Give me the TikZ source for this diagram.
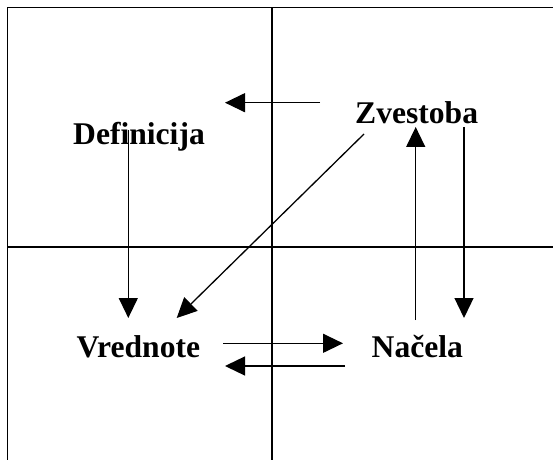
\documentclass[tikz,border=0pt]{standalone}
\usepackage{fontspec}
\setmainfont{Liberation Serif}
\usetikzlibrary{arrows.meta}
\tikzset{
  frameline/.style={line width=1.7bp, line cap=rect},
  conn/.style={line width=1.3bp, -{Triangle[length=20bp,width=19bp]}},
  lbl/.style={anchor=base west, inner sep=0pt, font=\fontsize{31.6bp}{36bp}\selectfont\bfseries},
}
\begin{document}
\begin{tikzpicture}[x=1bp,y=-1bp]
\useasboundingbox (0,0) rectangle (553,460);
% frame and cross lines
\coordinate (tl) at (7.5,7.5);
\coordinate (tr) at (553,7.5);
\coordinate (bl) at (7.5,460);
\coordinate (vt) at (272,7.5);
\coordinate (vb) at (272,460);
\coordinate (hl) at (7.5,246.7);
\coordinate (hr) at (553,246.7);
\draw[frameline] (bl) -- (tl) -- (tr);
\draw[frameline] (vt) -- (vb);
\draw[frameline] (hl) -- (hr);
% labels
\node[lbl] (def) at (73,145) {Definicija};
\node[lbl] (zve) at (355,123.3) {Zvestoba};
\node[lbl] (vre) at (76.5,357.5) {Vrednote};
\node[lbl] (nac) at (371.5,357.5) {Načela};
% connector end points
\coordinate (a1s) at (320,102.7);
\coordinate (a1e) at (225,102.7);
\coordinate (a2s) at (128.3,130);
\coordinate (a2e) at (128.3,318);
\coordinate (a3s) at (364,134);
\coordinate (a3e) at (176.7,318);
\coordinate (a4s) at (415.7,320);
\coordinate (a4e) at (415.7,127);
\coordinate (a5s) at (464,127);
\coordinate (a5e) at (464,318);
\coordinate (a6s) at (223,343.3);
\coordinate (a6e) at (343,343.3);
\coordinate (a7s) at (345,366);
\coordinate (a7e) at (225,366);
\draw[conn] (a1s) -- (a1e);
\draw[conn] (a2s) -- (a2e);
\draw[conn] (a3s) -- (a3e);
\draw[conn] (a4s) -- (a4e);
\draw[conn] (a5s) -- (a5e);
\draw[conn] (a6s) -- (a6e);
\draw[conn] (a7s) -- (a7e);
\end{tikzpicture}
\end{document}
